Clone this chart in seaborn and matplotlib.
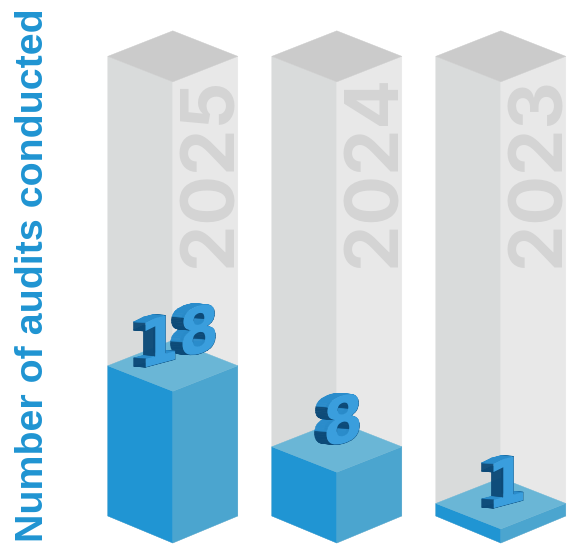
import numpy as np
import pandas as pd
import matplotlib
matplotlib.use("Agg")
import matplotlib.pyplot as plt
import seaborn as sns
from matplotlib.colors import to_rgb
from matplotlib.patches import Polygon
from matplotlib.path import Path
from matplotlib.patheffects import AbstractPathEffect
from matplotlib.transforms import Affine2D

years = ["2025", "2024", "2023"]
audits = [18, 8, 1]
axis_title = "Number of audits conducted"

BLUE_LEFT, BLUE_RIGHT, BLUE_TOP = "#2095D3", "#4BA5CF", "#6AB6D6"
GREY_LEFT, GREY_RIGHT, GREY_TOP = "#D9DBDB", "#E8E8E8", "#CBCBCB"
YEAR_GREY = "#D4D4D4"
NUM_FRONT, NUM_LIT, NUM_DARK = "#3A9EDD", "#2A8CCB", "#0C4A78"

PX_PER_UNIT = 8.1       # vertical pixels per audit
PLINTH = 0.55           # block thickness under a zero value, in audits
COLUMN_TOP = 56.2       # height of the grey column, in audits
SLOPE = 25.5 / 65.0     # rise of the isometric edges

W, H = 571, 545


class Extruded(AbstractPathEffect):
    """Shears glyphs upward to the right and gives them a solid depth."""

    def __init__(self, xscale, slope, depth, front, lit, dark, layers=12):
        super().__init__()
        self.xscale, self.slope, self.depth = xscale, slope, np.array(depth, float)
        self.front, self.lit, self.dark = to_rgb(front), to_rgb(lit), to_rgb(dark)
        self.layers = layers

    def draw_path(self, renderer, gc, tpath, affine, rgbFace=None):
        shear = Affine2D(np.array([[self.xscale, 0, 0], [self.slope, 1, 0], [0, 0, 1]], float))
        anchor = affine.transform_point((0, 0))
        full = affine + Affine2D().translate(*-anchor) + shear + Affine2D().translate(*anchor)
        polys = full.transform_path(tpath).to_polygons(closed_only=True)
        g = gc.__class__()
        g.copy_properties(gc)
        g.set_linewidth(0.4)
        ident = Affine2D()
        # Slices are painted back to front so nearer walls cover farther ones
        for k in range(self.layers, 0, -1):
            a, b = self.depth * k / self.layers, self.depth * (k - 1) / self.layers
            for poly in polys:
                for p, q in zip(poly[:-1], poly[1:]):
                    edge = q - p
                    if np.hypot(*edge) < 1e-6:
                        continue
                    # TrueType outlines run clockwise, so a rightward-running edge has
                    # its solid side beneath it and a wall that faces the light
                    lit = edge[0] > 0.25 * abs(edge[1])
                    rgb = self.lit if lit else self.dark
                    g.set_foreground(rgb)
                    renderer.draw_path(g, Path([p + a, q + a, q + b, p + b, p + a]), ident, rgb)
        g.restore()
        renderer.draw_path(gc, tpath, full, self.front)


sns.set_theme(style="white", rc={"axes.facecolor": "white", "figure.facecolor": "white"})
fig = plt.figure(figsize=(W / 100, H / 100), dpi=100)
ax = fig.add_axes([0, 0, 1, 1])

table = pd.DataFrame({"year": years, "audits": audits})
sns.barplot(data=table, x="year", y="audits", order=years, width=130 / 164, ax=ax)

# Limits place the left floor corner 29 px above the figure's bottom edge
ax.set_xlim(-172.8 / 164, (W - 172.8) / 164)
y_floor_px = H - 516
ax.set_ylim(-y_floor_px / PX_PER_UNIT - PLINTH, (H - y_floor_px) / PX_PER_UNIT - PLINTH)
ax.set_axis_off()

half = 65 / 164
drop = 65 * SLOPE / PX_PER_UNIT   # edge rise across a half width, in audit units
base_drop = 27 / PX_PER_UNIT      # the floor edges fall a little more steeply


def block(cx, top, left, right, roof, z):
    base = -PLINTH
    ax.add_patch(Polygon([(cx - half, base), (cx, base - base_drop), (cx, top - drop), (cx - half, top)],
                         fc=left, ec=left, lw=0.3, zorder=z))
    ax.add_patch(Polygon([(cx + half, base), (cx, base - base_drop), (cx, top - drop), (cx + half, top)],
                         fc=right, ec=right, lw=0.3, zorder=z))
    ax.add_patch(Polygon([(cx - half, top), (cx, top - drop), (cx + half, top), (cx, top + drop)],
                         fc=roof, ec=roof, lw=0.3, zorder=z))


# Pixel position of each numeral's baseline start, measured from the top-left corner
numeral_anchor = {"18": (139, 369), "8": (323, 448), "1": (487, 510)}

bars = list(ax.patches)
for bar, year, count in zip(bars, years, audits):
    cx = bar.get_x() + bar.get_width() / 2
    value = bar.get_height()
    bar.remove()

    block(cx, COLUMN_TOP, GREY_LEFT, GREY_RIGHT, GREY_TOP, z=1)

    # Year printed up the right-hand wall of the column
    ax.text(cx + half - 6 / 164, (H - 267 - y_floor_px) / PX_PER_UNIT - PLINTH, year, rotation=90,
            color=YEAR_GREY, family="Inter", weight="bold", fontsize=53,
            ha="left", va="baseline", rotation_mode="anchor", zorder=1.5)

    block(cx, value, BLUE_LEFT, BLUE_RIGHT, BLUE_TOP, z=2)

    # Extruded numeral standing on the block
    px, py = numeral_anchor[str(count)]
    num = ax.text(px, H - py, str(count), family="DejaVu Sans", weight="bold", fontsize=46,
                  ha="left", va="baseline", color=NUM_FRONT, transform=None, zorder=3)
    num.set_path_effects([Extruded(0.9, 0.24, (-12, 1), NUM_FRONT, NUM_LIT, NUM_DARK)])

# Axis title sized to run the full height of the blocks and wall
title = ax.text(43, H - 275, axis_title, rotation=90, color="#1F94D2", family="Liberation Sans",
                weight="bold", fontsize=30, ha="center", va="baseline", rotation_mode="anchor",
                transform=None)
fig.canvas.draw()
extent = title.get_window_extent().height
title.set_fontsize(30 * 534 / extent)

fig.savefig("out.png", dpi=100)
